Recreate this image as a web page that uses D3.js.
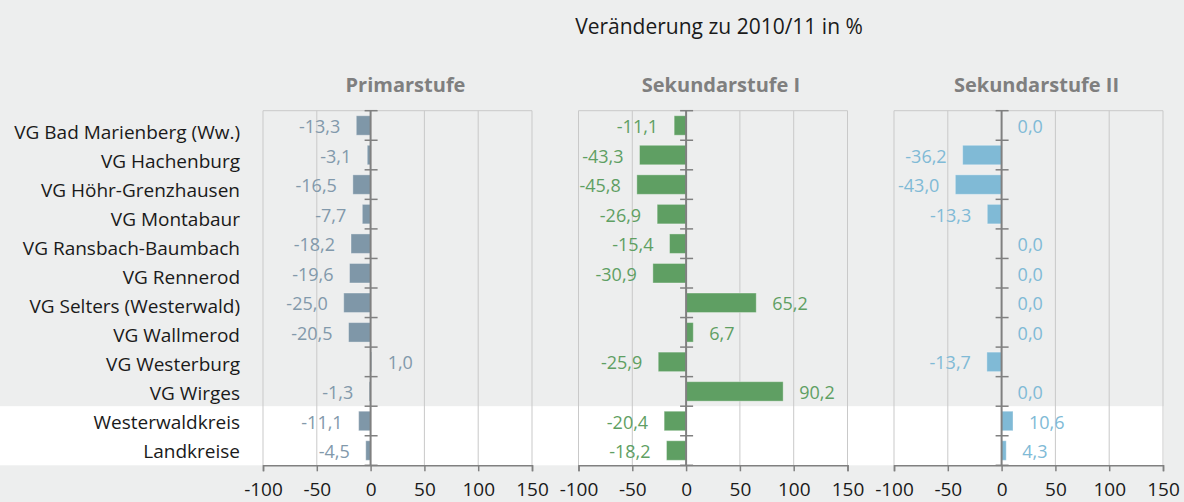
<!DOCTYPE html>
<html>
<head>
<meta charset="utf-8">
<script src="https://cdn.jsdelivr.net/npm/d3@7"></script>
<style>
  html, body { margin: 0; padding: 0; background: #edeeee; }
  svg { display: block; font-family: "Open Sans", "Noto Sans", sans-serif; }
</style>
</head>
<body>
<svg id="chart" width="1184" height="502"></svg>
<script>
// Regions (rows of the chart)
const categories = [
  "VG Bad Marienberg (Ww.)", "VG Hachenburg", "VG Höhr-Grenzhausen", "VG Montabaur",
  "VG Ransbach-Baumbach", "VG Rennerod", "VG Selters (Westerwald)", "VG Wallmerod",
  "VG Westerburg", "VG Wirges", "Westerwaldkreis", "Landkreise"
];
// Change against 2010/11 in percent, one array per school level
const primarstufe    = [-13.3, -3.1, -16.5, -7.7, -18.2, -19.6, -25.0, -20.5, 1.0, -1.3, -11.1, -4.5];
const sekundarstufe1 = [-11.1, -43.3, -45.8, -26.9, -15.4, -30.9, 65.2, 6.7, -25.9, 90.2, -20.4, -18.2];
const sekundarstufe2 = [0.0, -36.2, -43.0, -13.3, 0.0, 0.0, 0.0, 0.0, -13.7, 0.0, 10.6, 4.3];
const panelTitles = ["Primarstufe", "Sekundarstufe I", "Sekundarstufe II"];
const xTicks = [-100, -50, 0, 50, 100, 150];
const chartTitle = "Veränderung zu 2010/11 in %";

const panels = [
  { title: panelTitles[0], values: primarstufe,    bar: "#7f97a8", text: "#8299ab" },
  { title: panelTitles[1], values: sekundarstufe1, bar: "#5f9f63", text: "#5f9f63" },
  { title: panelTitles[2], values: sekundarstufe2, bar: "#80bad6", text: "#80bad6" }
];

const svg = d3.select("#chart");
const plotTop = 110.7, plotBottom = 465.3;
const panelLeft = 263, panelStep = 315.5, panelWidth = 269;
// German decimal comma, plain hyphen as minus sign
const fmt = v => d3.format(".1f")(v).replace(".", ",").replace("\u2212", "-");

const y = d3.scaleBand().domain(d3.range(categories.length)).range([plotTop, plotBottom]).paddingInner(0.34).paddingOuter(0.17);
const yRow = d3.scaleBand().domain(d3.range(categories.length)).range([plotTop, plotBottom]);
// label column uses a slightly tighter row spacing
const yLabel = d3.scalePoint().domain(d3.range(categories.length)).range([132.5, 451]);

// highlighted rows for the district and the reference group
svg.append("rect")
  .attr("x", 0).attr("y", yRow(10))
  .attr("width", panelLeft + 2 * panelStep + panelWidth + 1)
  .attr("height", plotBottom - yRow(10))
  .attr("fill", "#ffffff");

// overall title
svg.append("text")
  .attr("x", 719).attr("y", 34)
  .attr("text-anchor", "middle")
  .attr("font-size", 21).attr("fill", "#1a1a1a")
  .text(chartTitle);

// category labels
svg.append("g").selectAll("text").data(categories).join("text")
  .attr("x", 240).attr("y", (d, i) => yLabel(i))
  .attr("dy", "0.35em")
  .attr("text-anchor", "end")
  .attr("font-size", 19).attr("fill", "#1a1a1a")
  .text(d => d);

panels.forEach((p, k) => {
  const x0 = panelLeft + k * panelStep;
  const x = d3.scaleLinear().domain([-100, 150]).range([x0, x0 + panelWidth]);
  const g = svg.append("g");

  // grid lines and top border
  g.selectAll("line.grid").data(xTicks.filter(t => t !== 0)).join("line")
    .attr("class", "grid")
    .attr("x1", d => x(d)).attr("x2", d => x(d))
    .attr("y1", plotTop).attr("y2", plotBottom)
    .attr("stroke", "#c9c9c9").attr("stroke-width", 1);
  g.append("line")
    .attr("x1", x(-100)).attr("x2", x(150))
    .attr("y1", plotTop).attr("y2", plotTop)
    .attr("stroke", "#c9c9c9");

  // panel heading
  g.append("text")
    .attr("x", (x(-100) + x(150)) / 2 + 8).attr("y", 92)
    .attr("text-anchor", "middle")
    .attr("font-size", 20).attr("font-weight", "bold").attr("fill", "#7f7f7f")
    .text(p.title);

  // bars
  g.selectAll("rect.bar").data(p.values).join("rect")
    .attr("class", "bar")
    .attr("x", d => x(Math.min(0, d)))
    .attr("width", d => Math.abs(x(d) - x(0)))
    .attr("y", (d, i) => y(i))
    .attr("height", y.bandwidth())
    .attr("fill", p.bar)
    .attr("stroke", "rgba(255,255,255,0.35)").attr("stroke-width", 1);

  // value labels
  g.selectAll("text.val").data(p.values).join("text")
    .attr("class", "val")
    .attr("x", d => d < 0 ? x(d) - 16 : x(d) + 16)
    .attr("y", (d, i) => y(i) + y.bandwidth() / 2)
    .attr("dy", "0.42em")
    .attr("text-anchor", d => d < 0 ? "end" : "start")
    .attr("font-size", 18).attr("fill", p.text)
    .text(d => fmt(d));

  // bottom axis
  const ax = g.append("g").attr("transform", `translate(0,${plotBottom})`)
    .call(d3.axisBottom(x).tickValues(xTicks).tickSize(6).tickPadding(11).tickFormat(d3.format("d")));
  ax.select(".domain").attr("stroke", "#808080").attr("stroke-width", 1.5);
  ax.selectAll(".tick line").attr("stroke", "#808080").attr("stroke-width", 1.5);
  ax.selectAll(".tick text").attr("font-size", 19).attr("fill", "#1a1a1a")
    .attr("font-family", "\"Open Sans\", \"Noto Sans\", sans-serif")
    .text(d => String(d));

  // vertical zero axis with category ticks
  g.append("line")
    .attr("x1", x(0)).attr("x2", x(0)).attr("y1", plotTop).attr("y2", plotBottom)
    .attr("stroke", "#808080").attr("stroke-width", 2);
  g.selectAll("line.ytick").data(d3.range(categories.length + 1)).join("line")
    .attr("class", "ytick")
    .attr("x1", x(0) - 6).attr("x2", x(0) + 7)
    .attr("y1", i => i < categories.length ? yRow(i) : plotBottom)
    .attr("y2", i => i < categories.length ? yRow(i) : plotBottom)
    .attr("stroke", "#808080").attr("stroke-width", 1.5);
});
</script>
</body>
</html>
